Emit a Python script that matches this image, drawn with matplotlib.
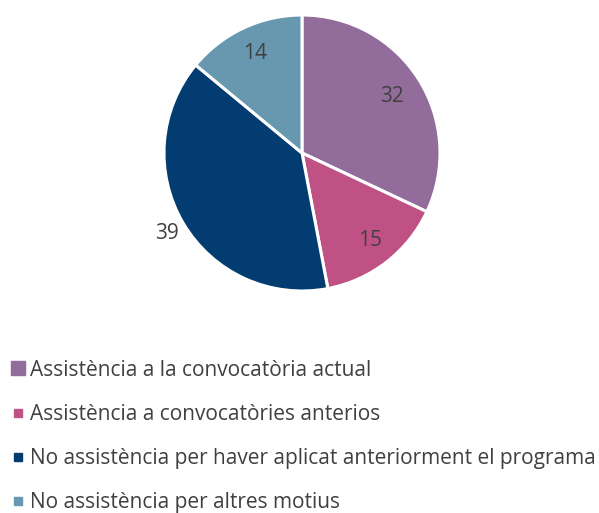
import matplotlib
matplotlib.use('Agg')
import matplotlib.pyplot as plt
from matplotlib.lines import Line2D
import numpy as np

labels = ['Assistència a la convocatòria actual',
          'Assistència a convocatòries anterios',
          'No assistència per haver aplicat anteriorment el programa',
          'No assistència per altres motius']
values = [32, 15, 39, 14]
colors = ['#926C9A', '#C05184', '#033C71', '#6897B0']

plt.rcParams['font.family'] = ['Open Sans', 'DejaVu Sans']
txt = '#404040'

fig = plt.figure(figsize=(5.99, 5.13), dpi=100)
cx, cy, r = 302, 153, 138
W, H = 599, 513
ax = fig.add_axes([(cx - r) / W, (H - cy - r) / H, 2 * r / W, 2 * r / H])
wedges, _ = ax.pie(values, colors=colors, startangle=90, counterclock=False,
                   radius=1, wedgeprops=dict(edgecolor='white', linewidth=2.2))
ax.set_xlim(-1, 1)
ax.set_ylim(-1, 1)
ax.set_aspect('equal')
ax.axis('off')

# data labels (the biggest one sits outside the pie)
dists = [0.77, 0.8, 1.14, 0.8]
for w, v, d in zip(wedges, values, dists):
    ang = np.deg2rad((w.theta1 + w.theta2) / 2)
    ax.text(d * np.cos(ang), d * np.sin(ang), str(v), ha='center', va='center',
            fontsize=15, color=txt)

# legend
sizes = [10, 6, 6, 6]
handles = [Line2D([], [], marker='s', linestyle='none', markersize=s,
                  markerfacecolor=c, markeredgecolor=c) for c, s in zip(colors, sizes)]
fig.legend(handles, labels, loc='upper left', bbox_to_anchor=(0.012, 0.307),
           frameon=False, fontsize=15, labelcolor=txt, handlelength=0.6,
           handletextpad=0.3, labelspacing=1.11, borderaxespad=0, borderpad=0.2)

fig.savefig('out.png', dpi=100)
